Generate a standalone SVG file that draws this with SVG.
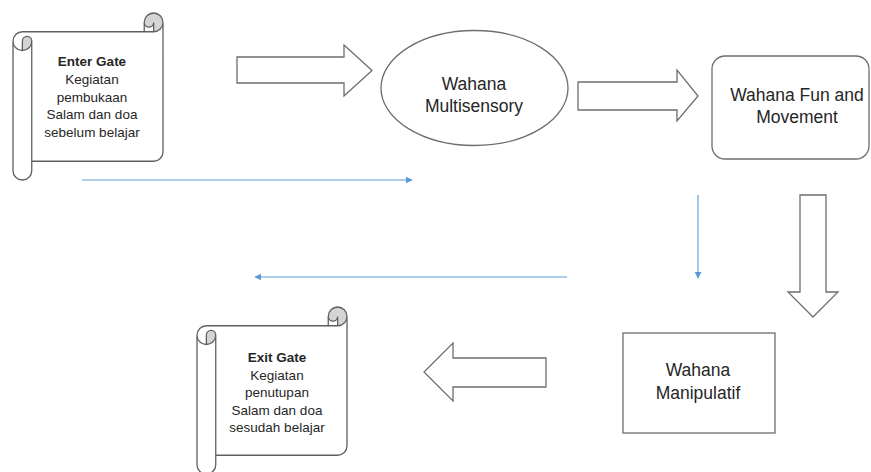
<svg xmlns="http://www.w3.org/2000/svg" xmlns:xlink="http://www.w3.org/1999/xlink" width="871" height="472" viewBox="0 0 871 472">
  <style>
    .shape { fill: #ffffff; stroke: #6e6e6e; stroke-width: 1.3; stroke-linejoin: miter; }
    .curl { fill: #d4d4d4; stroke: none; }
    .outline { fill: none; stroke: #5f5f5f; stroke-width: 1.3; }
    .blue { fill: none; stroke: #5b9bd5; stroke-width: 1.1; }
    .lbl { font-family: "Liberation Sans", Arial, sans-serif; font-size: 17.5px; fill: #262626; text-anchor: middle; }
    .sm { font-family: "Liberation Sans", Arial, sans-serif; font-size: 13.5px; fill: #262626; text-anchor: middle; }
    .b { font-weight: bold; }
  </style>
  <defs>
    <marker id="ah" viewBox="0 0 10 10" refX="9" refY="5" markerWidth="7" markerHeight="7" markerUnits="userSpaceOnUse" orient="auto">
      <path d="M0,0 L10,5 L0,10 Z" fill="#5b9bd5"/>
    </marker>
    <g id="scroll">
      <path class="shape" style="stroke:none" d="M150,9.375 A9.375,9.375 0 0 1 140.625,18.75 L140.625,9.375 A4.6875,4.6875 0 0 1 131.25,9.375 L131.25,18.75 L9.375,18.75 A9.375,9.375 0 0 0 0,28.125 L0,157.625 A9.375,9.375 0 0 0 18.75,157.625 L18.75,148.25 L140.625,148.25 A9.375,9.375 0 0 0 150,138.875 Z"/>
      <path class="curl" d="M9.375,37.5 A9.375,9.375 0 0 0 18.75,28.125 A4.6875,4.6875 0 0 0 9.375,28.125 Z M140.625,18.75 A9.375,9.375 0 1 0 131.25,9.375 A4.6875,4.6875 0 0 0 140.625,9.375 Z"/>
      <path class="outline" d="M0,28.125 A9.375,9.375 0 0 1 9.375,18.75 L131.25,18.75 L131.25,9.375 A9.375,9.375 0 0 1 150,9.375 L150,138.875 A9.375,9.375 0 0 1 140.625,148.25 L18.75,148.25 L18.75,157.625 A9.375,9.375 0 0 1 0,157.625 Z M131.25,18.75 L140.625,18.75 A9.375,9.375 0 0 0 150,9.375 M140.625,18.75 L140.625,9.375 A4.6875,4.6875 0 0 1 131.25,9.375 M9.375,37.5 L9.375,28.125 A4.6875,4.6875 0 0 1 18.75,28.125 A9.375,9.375 0 0 1 0,28.125 M18.75,28.125 L18.75,148.25"/>
    </g>
  </defs>

  <g id="enter-gate">
    <use xlink:href="#scroll" href="#scroll" transform="translate(13,13)"/>
    <text class="sm b" x="92" y="66">Enter Gate</text>
    <text class="sm" x="92" y="84">Kegiatan</text>
    <text class="sm" x="92" y="101.5">pembukaan</text>
    <text class="sm" x="92" y="119">Salam dan doa</text>
    <text class="sm" x="92" y="137">sebelum belajar</text>
  </g>

  <g id="multisensory">
    <ellipse class="shape" cx="474.5" cy="88" rx="93.5" ry="57.5"/>
    <text class="lbl" x="474" y="90">Wahana</text>
    <text class="lbl" x="474" y="112">Multisensory</text>
  </g>

  <g id="fun-movement">
    <rect class="shape" x="712" y="56" width="157" height="103" rx="13" ry="13"/>
    <text class="lbl" x="797" y="101">Wahana Fun and</text>
    <text class="lbl" x="797" y="123">Movement</text>
  </g>

  <g id="manipulatif">
    <rect class="shape" x="623" y="333" width="152" height="100"/>
    <text class="lbl" x="698" y="376">Wahana</text>
    <text class="lbl" x="698" y="399">Manipulatif</text>
  </g>

  <g id="exit-gate">
    <use xlink:href="#scroll" href="#scroll" transform="translate(197,307)"/>
    <text class="sm b" x="277" y="362">Exit Gate</text>
    <text class="sm" x="277" y="380">Kegiatan</text>
    <text class="sm" x="277" y="397">penutupan</text>
    <text class="sm" x="277" y="414.5">Salam dan doa</text>
    <text class="sm" x="277" y="432">sesudah belajar</text>
  </g>

  <g id="connectors">
    <path class="shape" d="M237,57 L344,57 L344,45 L372,70.5 L344,96 L344,83 L237,83 Z"/>
    <path class="shape" d="M578,82 L677,82 L677,70 L698,96 L677,121 L677,110 L578,110 Z"/>
    <path class="shape" d="M800,195 L826,195 L826,292 L838,292 L813,317 L788,292 L800,292 Z"/>
    <path class="shape" d="M546,358 L546,387 L453,387 L453,401 L424,372 L453,343 L453,358 Z"/>
    <line class="blue" x1="82" y1="180" x2="412" y2="180" marker-end="url(#ah)"/>
    <line class="blue" x1="567" y1="277" x2="255" y2="277" marker-end="url(#ah)"/>
    <line class="blue" x1="698" y1="195" x2="698" y2="278" marker-end="url(#ah)"/>
  </g>
</svg>
